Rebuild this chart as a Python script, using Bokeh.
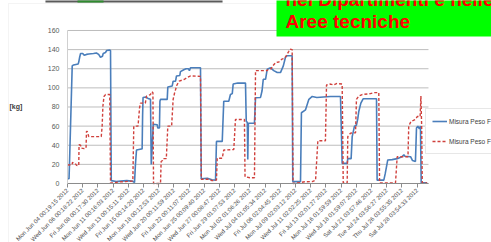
from math import pi
from bokeh.plotting import figure
from bokeh.models import (Range1d, FixedTicker, Legend, LegendItem, Label, LinearAxis,
                          BoxAnnotation)
from bokeh.embed import file_html
from bokeh.resources import INLINE

# ---------------- data ----------------
tick_labels = [
    "Mon Jun 04 00:19:15 2012", "Wed Jun 06 00:18:22 2012", "Fri Jun 08 00:17:30 2012",
    "Mon Jun 11 00:16:03 2012", "Wed Jun 13 00:15:11 2012", "Fri Jun 15 00:14:20 2012",
    "Mon Jun 18 00:12:53 2012", "Wed Jun 20 00:11:59 2012", "Fri Jun 22 00:11:07 2012",
    "Mon Jun 25 00:09:40 2012", "Wed Jun 27 00:08:47 2012", "Fri Jun 29 01:07:53 2012",
    "Mon Jul 02 01:06:26 2012", "Wed Jul 04 01:05:34 2012", "Fri Jul 06 02:04:45 2012",
    "Mon Jul 09 02:03:12 2012", "Wed Jul 11 02:02:25 2012", "Fri Jul 13 02:01:27 2012",
    "Mon Jul 16 01:59:59 2012", "Wed Jul 18 01:59:07 2012", "Sat Jul 21 03:57:46 2012",
    "Tue Jul 24 03:56:27 2012", "Thu Jul 26 03:55:35 2012", "Sat Jul 28 03:54:33 2012",
]
tick_pos = list(range(len(tick_labels)))
x_end = 23.75
y_ticks = [0, 20, 40, 60, 80, 100, 120, 140, 160]
series_names = ["Misura Peso F", "Misura Peso F"]

# position along the category axis (tick index units) and weight [kg]
blue_x = [0.00, 0.10, 0.13, 0.31, 0.40, 0.70, 0.74, 0.80, 0.86, 1.00, 1.10, 1.25, 1.40, 1.71,
          1.90, 2.05, 2.17, 2.30, 2.35, 2.50, 2.57, 2.76, 2.83, 2.88, 3.20, 3.50, 3.90, 4.20,
          4.34, 4.41, 4.47, 4.54, 4.85, 4.91, 4.94, 4.97, 5.15, 5.30, 5.46, 5.51, 5.58, 5.64,
          5.90, 5.94, 6.05, 6.08, 6.12, 6.56, 6.60, 6.89, 6.95, 7.11, 7.17, 7.39, 7.43, 7.65,
          7.80, 7.96, 8.02, 8.09, 8.75, 8.80, 9.20, 9.50, 9.74, 9.80, 10.18, 10.28, 10.61,
          10.72, 10.84, 10.90, 11.20, 11.71, 11.76, 11.83, 11.86, 11.90, 12.30, 12.37, 12.70,
          12.80, 12.88, 13.03, 13.14, 13.36, 13.57, 13.80, 14.01, 14.20, 14.34, 14.45, 14.78,
          14.82, 15.33, 15.39, 15.66, 15.88, 16.10, 16.40, 16.84, 17.30, 17.96, 18.07, 18.40,
          18.44, 18.66, 18.73, 18.88, 19.01, 19.10, 19.16, 19.30, 19.45, 20.33, 20.37, 20.81,
          20.90, 21.07, 21.36, 21.69, 22.00, 22.13, 22.20, 22.57, 22.70, 22.89, 22.96, 23.05,
          23.15, 23.22, 23.27, 23.66]
blue_y = [5, 5, 20, 123, 124, 125, 127, 132, 136, 136, 134, 135, 135.5, 136,
          136.5, 135, 132, 133, 136, 137, 139, 139.5, 139, 3, 2, 2.5, 3, 2.5,
          2, 1, 20, 35, 36, 36, 70, 90, 90.5, 89, 88, 20, 40, 62,
          61.5, 58, 58, 86, 88, 88, 101, 102, 107, 107, 112.5, 113, 117, 119,
          120, 120, 118, 121, 121, 5, 5.5, 4, 3.5, 44, 44, 86, 86,
          93, 94, 104, 105, 105, 65, 64, 25, 63, 63, 89.7, 90,
          97, 109, 109, 119.5, 121, 118, 116, 116, 123, 132, 133.6, 133.6,
          2, 2, 74, 77, 88, 91, 90, 90.5, 91, 91, 21, 21,
          26, 26, 49, 60, 61, 68, 75, 84, 88.6, 88.6, 3.5, 3.5,
          10, 24.6, 25, 26, 28, 30, 28.5, 28, 24, 23, 58, 60,
          57, 60, 0.7, 0.7]

red_x = [0.00, 0.30, 0.33, 0.50, 0.60, 0.74, 0.76, 0.86, 0.90, 1.10, 1.22, 1.25, 1.30, 1.40,
         2.00, 2.22, 2.28, 2.33, 2.40, 2.50, 2.78, 2.83, 3.00, 3.30, 3.80, 4.20, 4.30, 4.36,
         4.64, 4.74, 4.80, 5.12, 5.20, 5.46, 5.55, 5.62, 5.66, 6.12, 6.16, 6.25, 6.30, 6.50,
         6.60, 6.85, 6.95, 7.05, 7.20, 7.35, 7.70, 7.90, 8.10, 8.75, 8.80, 9.30, 9.50, 9.80,
         9.85, 10.18, 10.28, 10.94, 11.05, 11.38, 11.64, 11.68, 12.00, 12.30, 12.37, 13.14,
         13.20, 13.40, 13.50, 13.70, 13.90, 14.10, 14.30, 14.55, 14.63, 14.78, 14.84, 15.33,
         15.60, 16.10, 16.32, 16.47, 16.97, 17.04, 17.30, 17.50, 17.70, 18.07, 18.14, 18.40,
         18.44, 18.62, 18.95, 19.01, 19.16, 19.39, 19.93, 20.15, 20.48, 20.53, 21.58, 21.69,
         22.40, 22.45, 22.60, 22.89, 23.01, 23.20, 23.25, 23.30, 23.34, 23.66]
red_y = [19.4, 19.5, 22, 21, 19, 18.7, 40.5, 40, 37, 36.5, 37, 54.5, 54.5, 49,
         49, 49, 60, 81, 91, 93, 93, 0.5, 0.5, 1.5, 2, 2.5, 2.5, 60,
         60, 79, 84, 84, 91.4, 93, 96, 95, 0, 0, 23, 24, 26, 26,
         60, 60, 88, 95, 103, 107, 109, 111, 112.5, 112, 4.5, 4.5, 3, 3.5,
         26.4, 26.4, 35, 35.5, 67, 67, 67, 7, 6, 6, 118, 118,
         119.5, 120, 123, 126.6, 127, 130, 131, 138, 140.6, 140, 0, 1,
         1.8, 2, 3.5, 44.7, 44.7, 103, 104, 103, 104.5, 104, 0.7, 0.7,
         49, 52.7, 53, 88, 91.4, 93, 94, 95, 95, 0.7, 0.7, 28,
         28, 60, 65, 67, 70, 70, 91.4, 60, 0.7, 0.7]

# ---------------- figure (frame = whole slide area) ----------------
p = figure(width=491, height=242, output_backend="svg", toolbar_location=None,
           x_range=Range1d(-4.408, 27.895), y_range=Range1d(-61.7, 191.37),
           x_axis_location=None, y_axis_location=None, min_border=0)
p.min_border_left = p.min_border_right = p.min_border_top = p.min_border_bottom = 0
p.background_fill_color = "white"
p.border_fill_color = "white"
p.outline_line_color = None
p.grid.visible = False

# outer chart frame and slide decoration
p.add_layout(BoxAnnotation(left=-3.88, right=60, top=188.2, bottom=-200,
                           fill_alpha=0, line_color="#d9d9d9", line_width=1))
p.add_layout(BoxAnnotation(left=-1.45, right=10.2, top=200, bottom=189.3,
                           fill_color="#5a5a5a", fill_alpha=1, line_color=None))
p.add_layout(BoxAnnotation(left=0.66, right=2.37, top=200, bottom=189.3,
                           fill_color="#2e8b2e", fill_alpha=1, line_color=None))

# horizontal gridlines across the plot area
grid = p.segment(x0=[0] * len(y_ticks), x1=[x_end] * len(y_ticks), y0=y_ticks, y1=y_ticks,
                 line_color="#bdbdbd", line_width=1, level="underlay")

# axes fixed on the plot area
xaxis = LinearAxis(fixed_location=0, bounds=(0, x_end), ticker=FixedTicker(ticks=tick_pos),
                   major_label_overrides={i: t for i, t in zip(tick_pos, tick_labels)},
                   major_label_orientation=pi / 4, major_label_standoff=2,
                   major_label_text_font="Liberation Sans", major_label_text_font_size="6px",
                   major_label_text_color="#4d4d4d", axis_line_color="#8c8c8c",
                   major_tick_line_color="#8c8c8c", major_tick_out=4, major_tick_in=0,
                   minor_tick_line_color=None)
p.add_layout(xaxis, "below")

yaxis = LinearAxis(fixed_location=0, bounds=(0, 160), ticker=FixedTicker(ticks=y_ticks),
                   major_label_text_font="Liberation Sans", major_label_text_font_size="7px",
                   major_label_text_color="#595959", major_label_standoff=8,
                   major_tick_out=0, major_tick_in=0,
                   axis_line_color="#d0d0d0", major_tick_line_color=None,
                   minor_tick_line_color=None)
p.add_layout(yaxis, "left")

# series
r1 = p.line(blue_x, blue_y, line_color="#4a7ebb", line_width=1.6)
r2 = p.line(red_x, red_y, line_color="#d0403c", line_width=1.4, line_dash="3 2")

# y axis title
p.add_layout(Label(x=-3.82, y=80, text="[kg]", text_font="Liberation Sans",
                   text_font_size="7px", text_font_style="bold", text_color="#404040",
                   text_baseline="middle", text_align="left"))

# legend
legend = Legend(items=[LegendItem(label=series_names[0], renderers=[r1]),
                       LegendItem(label=series_names[1], renderers=[r2])],
                location=(425, 88), orientation="vertical", padding=6, spacing=8,
                glyph_width=15, glyph_height=12, label_height=12, label_standoff=2,
                label_text_font="Liberation Sans", label_text_font_size="6.5px",
                label_text_color="#404040", border_line_color="#d0d0d0",
                background_fill_color="white", background_fill_alpha=1, margin=0)
p.add_layout(legend)

# green slide banner
p.add_layout(BoxAnnotation(left=13.75, right=60, top=300, bottom=153.7,
                           fill_color="#00ff00", fill_alpha=1, line_color=None))
p.add_layout(Label(x=14.34, y=191.9, text="nei Dipartimenti e nelle",
                   text_font="Liberation Sans", text_font_style="bold",
                   text_font_size="19px", text_color="#ff0000", text_baseline="alphabetic"))
p.add_layout(Label(x=14.34, y=168.9, text="Aree tecniche",
                   text_font="Liberation Sans", text_font_style="bold",
                   text_font_size="19px", text_color="#ff0000", text_baseline="alphabetic"))

open("out.html", "w").write(file_html(p, INLINE))
